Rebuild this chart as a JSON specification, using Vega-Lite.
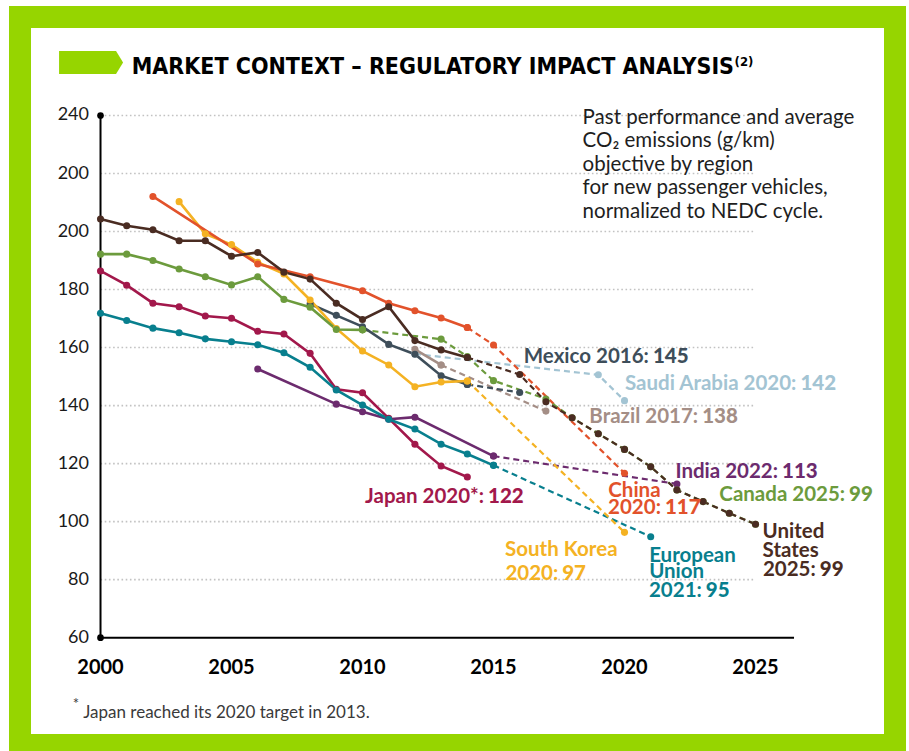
{
  "$schema": "https://vega.github.io/schema/vega-lite/v6.json",
  "width": 875,
  "height": 728,
  "autosize": {"type": "none"},
  "padding": {"left": 20, "top": 17, "right": 14, "bottom": 6},
  "background": "white",
  "config": {
    "view": {"fill": "white", "stroke": "#96D500", "strokeWidth": 22},
    "font": "Lato"
  },
  "datasets": {
    "series": [
      {"region": "Saudi Arabia", "kind": "target", "year": 2012, "value": 157.8},
      {"region": "Saudi Arabia", "kind": "target", "year": 2019, "value": 150.6},
      {"region": "Saudi Arabia", "kind": "target", "year": 2020, "value": 141.7},
      {"region": "Brazil", "kind": "actual", "year": 2012, "value": 159.4},
      {"region": "Brazil", "kind": "actual", "year": 2013, "value": 154.0},
      {"region": "Brazil", "kind": "target", "year": 2013, "value": 154.0},
      {"region": "Brazil", "kind": "target", "year": 2017, "value": 138.1},
      {"region": "Mexico", "kind": "actual", "year": 2008, "value": 175.0},
      {"region": "Mexico", "kind": "actual", "year": 2009, "value": 171.1},
      {"region": "Mexico", "kind": "actual", "year": 2010, "value": 167.2},
      {"region": "Mexico", "kind": "actual", "year": 2011, "value": 161.1},
      {"region": "Mexico", "kind": "actual", "year": 2012, "value": 157.7},
      {"region": "Mexico", "kind": "actual", "year": 2013, "value": 150.3},
      {"region": "Mexico", "kind": "actual", "year": 2014, "value": 147.3},
      {"region": "Mexico", "kind": "target", "year": 2014, "value": 147.3},
      {"region": "Mexico", "kind": "target", "year": 2016, "value": 144.5},
      {"region": "India", "kind": "actual", "year": 2006, "value": 152.6},
      {"region": "India", "kind": "actual", "year": 2009, "value": 140.5},
      {"region": "India", "kind": "actual", "year": 2010, "value": 137.9},
      {"region": "India", "kind": "actual", "year": 2011, "value": 135.3},
      {"region": "India", "kind": "actual", "year": 2012, "value": 136.0},
      {"region": "India", "kind": "actual", "year": 2015, "value": 122.6},
      {"region": "India", "kind": "target", "year": 2015, "value": 122.6},
      {"region": "India", "kind": "target", "year": 2022, "value": 113.0},
      {"region": "Japan", "kind": "actual", "year": 2000, "value": 186.4},
      {"region": "Japan", "kind": "actual", "year": 2001, "value": 181.5},
      {"region": "Japan", "kind": "actual", "year": 2002, "value": 175.3},
      {"region": "Japan", "kind": "actual", "year": 2003, "value": 174.1},
      {"region": "Japan", "kind": "actual", "year": 2004, "value": 170.9},
      {"region": "Japan", "kind": "actual", "year": 2005, "value": 170.1},
      {"region": "Japan", "kind": "actual", "year": 2006, "value": 165.6},
      {"region": "Japan", "kind": "actual", "year": 2007, "value": 164.7},
      {"region": "Japan", "kind": "actual", "year": 2008, "value": 158.0},
      {"region": "Japan", "kind": "actual", "year": 2009, "value": 145.6},
      {"region": "Japan", "kind": "actual", "year": 2010, "value": 144.4},
      {"region": "Japan", "kind": "actual", "year": 2011, "value": 135.6},
      {"region": "Japan", "kind": "actual", "year": 2012, "value": 126.7},
      {"region": "Japan", "kind": "actual", "year": 2013, "value": 119.2},
      {"region": "Japan", "kind": "actual", "year": 2014, "value": 115.4},
      {"region": "European Union", "kind": "actual", "year": 2000, "value": 171.8},
      {"region": "European Union", "kind": "actual", "year": 2001, "value": 169.3},
      {"region": "European Union", "kind": "actual", "year": 2002, "value": 166.7},
      {"region": "European Union", "kind": "actual", "year": 2003, "value": 165.1},
      {"region": "European Union", "kind": "actual", "year": 2004, "value": 163.0},
      {"region": "European Union", "kind": "actual", "year": 2005, "value": 162.0},
      {"region": "European Union", "kind": "actual", "year": 2006, "value": 161.0},
      {"region": "European Union", "kind": "actual", "year": 2007, "value": 158.2},
      {"region": "European Union", "kind": "actual", "year": 2008, "value": 153.2},
      {"region": "European Union", "kind": "actual", "year": 2009, "value": 145.4},
      {"region": "European Union", "kind": "actual", "year": 2010, "value": 140.2},
      {"region": "European Union", "kind": "actual", "year": 2011, "value": 135.3},
      {"region": "European Union", "kind": "actual", "year": 2012, "value": 131.9},
      {"region": "European Union", "kind": "actual", "year": 2013, "value": 126.7},
      {"region": "European Union", "kind": "actual", "year": 2014, "value": 123.3},
      {"region": "European Union", "kind": "actual", "year": 2015, "value": 119.4},
      {"region": "European Union", "kind": "target", "year": 2015, "value": 119.4},
      {"region": "European Union", "kind": "target", "year": 2021, "value": 94.8},
      {"region": "South Korea", "kind": "actual", "year": 2003, "value": 210.3},
      {"region": "South Korea", "kind": "actual", "year": 2004, "value": 199.2},
      {"region": "South Korea", "kind": "actual", "year": 2005, "value": 195.5},
      {"region": "South Korea", "kind": "actual", "year": 2006, "value": 189.4},
      {"region": "South Korea", "kind": "actual", "year": 2007, "value": 185.4},
      {"region": "South Korea", "kind": "actual", "year": 2008, "value": 176.4},
      {"region": "South Korea", "kind": "actual", "year": 2009, "value": 166.6},
      {"region": "South Korea", "kind": "actual", "year": 2010, "value": 158.8},
      {"region": "South Korea", "kind": "actual", "year": 2011, "value": 154.0},
      {"region": "South Korea", "kind": "actual", "year": 2012, "value": 146.5},
      {"region": "South Korea", "kind": "actual", "year": 2013, "value": 148.1},
      {"region": "South Korea", "kind": "actual", "year": 2014, "value": 148.5},
      {"region": "South Korea", "kind": "target", "year": 2014, "value": 148.5},
      {"region": "South Korea", "kind": "target", "year": 2020, "value": 96.3},
      {"region": "China", "kind": "actual", "year": 2002, "value": 212.1},
      {"region": "China", "kind": "actual", "year": 2006, "value": 188.8},
      {"region": "China", "kind": "actual", "year": 2008, "value": 184.4},
      {"region": "China", "kind": "actual", "year": 2010, "value": 179.6},
      {"region": "China", "kind": "actual", "year": 2011, "value": 175.3},
      {"region": "China", "kind": "actual", "year": 2012, "value": 172.7},
      {"region": "China", "kind": "actual", "year": 2013, "value": 170.2},
      {"region": "China", "kind": "actual", "year": 2014, "value": 166.9},
      {"region": "China", "kind": "target", "year": 2014, "value": 166.9},
      {"region": "China", "kind": "target", "year": 2015, "value": 160.9},
      {"region": "China", "kind": "target", "year": 2020, "value": 116.7},
      {"region": "Canada", "kind": "actual", "year": 2000, "value": 192.2},
      {"region": "Canada", "kind": "actual", "year": 2001, "value": 192.2},
      {"region": "Canada", "kind": "actual", "year": 2002, "value": 190.0},
      {"region": "Canada", "kind": "actual", "year": 2003, "value": 187.1},
      {"region": "Canada", "kind": "actual", "year": 2004, "value": 184.4},
      {"region": "Canada", "kind": "actual", "year": 2005, "value": 181.6},
      {"region": "Canada", "kind": "actual", "year": 2006, "value": 184.4},
      {"region": "Canada", "kind": "actual", "year": 2007, "value": 176.6},
      {"region": "Canada", "kind": "actual", "year": 2008, "value": 173.9},
      {"region": "Canada", "kind": "actual", "year": 2009, "value": 166.2},
      {"region": "Canada", "kind": "actual", "year": 2010, "value": 166.1},
      {"region": "Canada", "kind": "target", "year": 2010, "value": 166.1},
      {"region": "Canada", "kind": "target", "year": 2013, "value": 162.9},
      {"region": "Canada", "kind": "target", "year": 2014, "value": 156.9},
      {"region": "Canada", "kind": "target", "year": 2015, "value": 148.6},
      {"region": "Canada", "kind": "target", "year": 2017, "value": 142.3},
      {"region": "Canada", "kind": "target", "year": 2018, "value": 135.8},
      {"region": "Canada", "kind": "target", "year": 2019, "value": 130.3},
      {"region": "Canada", "kind": "target", "year": 2020, "value": 124.9},
      {"region": "Canada", "kind": "target", "year": 2021, "value": 118.9},
      {"region": "Canada", "kind": "target", "year": 2022, "value": 110.9},
      {"region": "Canada", "kind": "target", "year": 2023, "value": 106.9},
      {"region": "Canada", "kind": "target", "year": 2024, "value": 102.9},
      {"region": "Canada", "kind": "target", "year": 2025, "value": 99.1},
      {"region": "United States", "kind": "actual", "year": 2000, "value": 204.3},
      {"region": "United States", "kind": "actual", "year": 2001, "value": 202.0},
      {"region": "United States", "kind": "actual", "year": 2002, "value": 200.6},
      {"region": "United States", "kind": "actual", "year": 2003, "value": 196.8},
      {"region": "United States", "kind": "actual", "year": 2004, "value": 196.8},
      {"region": "United States", "kind": "actual", "year": 2005, "value": 191.5},
      {"region": "United States", "kind": "actual", "year": 2006, "value": 192.8},
      {"region": "United States", "kind": "actual", "year": 2007, "value": 186.0},
      {"region": "United States", "kind": "actual", "year": 2008, "value": 183.6},
      {"region": "United States", "kind": "actual", "year": 2009, "value": 175.3},
      {"region": "United States", "kind": "actual", "year": 2010, "value": 169.7},
      {"region": "United States", "kind": "actual", "year": 2011, "value": 174.1},
      {"region": "United States", "kind": "actual", "year": 2012, "value": 162.4},
      {"region": "United States", "kind": "actual", "year": 2013, "value": 159.2},
      {"region": "United States", "kind": "actual", "year": 2014, "value": 156.6},
      {"region": "United States", "kind": "target", "year": 2014, "value": 156.6},
      {"region": "United States", "kind": "target", "year": 2016, "value": 150.7},
      {"region": "United States", "kind": "target", "year": 2017, "value": 141.3},
      {"region": "United States", "kind": "target", "year": 2018, "value": 135.8},
      {"region": "United States", "kind": "target", "year": 2019, "value": 130.3},
      {"region": "United States", "kind": "target", "year": 2020, "value": 124.9},
      {"region": "United States", "kind": "target", "year": 2021, "value": 118.9},
      {"region": "United States", "kind": "target", "year": 2022, "value": 110.9},
      {"region": "United States", "kind": "target", "year": 2023, "value": 106.9},
      {"region": "United States", "kind": "target", "year": 2024, "value": 102.9},
      {"region": "United States", "kind": "target", "year": 2025, "value": 99.1}
    ],
    "grid": [{"v": 80}, {"v": 100}, {"v": 120}, {"v": 140}, {"v": 160}, {"v": 180}, {"v": 200}, {"v": 220}, {"v": 240}],
    "axisEnds": [{"v": 60}, {"v": 240}],
    "yTicks": [
      {"v": 60, "lab": "60"}, {"v": 80, "lab": "80"}, {"v": 100, "lab": "100"}, {"v": 120, "lab": "120"},
      {"v": 140, "lab": "140"}, {"v": 160, "lab": "160"}, {"v": 180, "lab": "180"}, {"v": 200, "lab": "200"},
      {"v": 220, "lab": "200"}, {"v": 240, "lab": "240"}
    ],
    "xTicks": [{"t": 2000}, {"t": 2005}, {"t": 2010}, {"t": 2015}, {"t": 2020}, {"t": 2025}],
    "labelLines": [
      {"region": "China", "text": "China", "year": 2019.38, "value": 108.6},
      {"region": "South Korea", "text": "South Korea", "year": 2015.44, "value": 88.15},
      {"region": "European Union", "text": "European", "year": 2020.94, "value": 86.2},
      {"region": "European Union", "text": "Union", "year": 2020.94, "value": 80.5},
      {"region": "United States", "text": "United", "year": 2025.27, "value": 94.3},
      {"region": "United States", "text": "States", "year": 2025.27, "value": 87.9}
    ],
    "labelPairs": [
      {"region": "Mexico", "prefix": "Mexico 2016:", "num": "145", "year": 2020.93, "value": 154.6},
      {"region": "Saudi Arabia", "prefix": "Saudi Arabia 2020:", "num": "142", "year": 2026.56, "value": 145.4},
      {"region": "Brazil", "prefix": "Brazil 2017:", "num": "138", "year": 2022.81, "value": 133.9},
      {"region": "India", "prefix": "India 2022:", "num": "113", "year": 2025.86, "value": 115.2},
      {"region": "Canada", "prefix": "Canada 2025:", "num": "99", "year": 2028.42, "value": 107.1},
      {"region": "China", "prefix": "2020:", "num": "117", "year": 2021.39, "value": 102.5},
      {"region": "South Korea", "prefix": "2020:", "num": "97", "year": 2017.47, "value": 79.9},
      {"region": "European Union", "prefix": "2021:", "num": "95", "year": 2022.95, "value": 74.1},
      {"region": "United States", "prefix": "2025:", "num": "99", "year": 2027.3, "value": 81.4},
      {"region": "Japan", "prefix": "Japan 2020*:", "num": "122", "year": 2014.64, "value": 106.3}
    ]
  },
  "layer": [
    {
      "data": {"name": "grid"},
      "mark": {"type": "rule", "color": "#c2c2c2", "strokeWidth": 1.6, "strokeDash": [1.6, 2.6]},
      "encoding": {
        "x": {"datum": 2000, "type": "quantitative", "scale": {"domain": [1996.927, 2030.324], "nice": false, "zero": false}, "axis": null},
        "x2": {"datum": 2025},
        "y": {"field": "v", "type": "quantitative", "scale": {"domain": [23.0, 273.95], "nice": false, "zero": false}, "axis": null}
      }
    },
    {
      "data": {"values": [{}]},
      "mark": {"type": "rule", "color": "#000000", "strokeWidth": 2},
      "encoding": {
        "x": {"datum": 2000, "type": "quantitative", "axis": null},
        "x2": {"datum": 2026.47},
        "y": {"datum": 60, "type": "quantitative", "axis": null}
      }
    },
    {
      "data": {"values": [{}]},
      "mark": {"type": "rule", "color": "#000000", "strokeWidth": 2},
      "encoding": {
        "x": {"datum": 2000, "type": "quantitative", "axis": null},
        "y": {"datum": 60, "type": "quantitative", "axis": null},
        "y2": {"datum": 240}
      }
    },
    {
      "data": {"name": "axisEnds"},
      "mark": {"type": "point", "filled": true, "color": "#000000", "size": 45, "opacity": 1},
      "encoding": {
        "x": {"datum": 2000, "type": "quantitative", "axis": null},
        "y": {"field": "v", "type": "quantitative", "axis": null}
      }
    },
    {
      "data": {"name": "yTicks"},
      "mark": {"type": "text", "font": "Lato", "fontSize": 18, "color": "#1a1a1a", "align": "right", "baseline": "middle"},
      "encoding": {
        "x": {"datum": 1999.56, "type": "quantitative", "axis": null},
        "y": {"field": "v", "type": "quantitative", "axis": null},
        "text": {"field": "lab"}
      }
    },
    {
      "data": {"name": "xTicks"},
      "mark": {"type": "text", "font": "Lato", "fontSize": 20, "fontWeight": "bold", "color": "#000000", "align": "center", "baseline": "alphabetic"},
      "encoding": {
        "x": {"field": "t", "type": "quantitative", "axis": null},
        "y": {"datum": 47.48, "type": "quantitative", "axis": null},
        "text": {"field": "t", "type": "quantitative", "format": "d"}
      }
    },
    {
      "data": {"values": [{}]},
      "mark": {"type": "point", "shape": "M-1,-0.36L0.78,-0.36L1,0L0.78,0.36L-1,0.36Z", "size": 4096, "filled": true, "color": "#96D500", "opacity": 1, "strokeWidth": 0},
      "encoding": {
        "x": {"datum": 1999.64, "type": "quantitative", "axis": null},
        "y": {"datum": 258.3, "type": "quantitative", "axis": null}
      }
    },
    {
      "data": {"values": [{}]},
      "mark": {"type": "text", "text": "MARKET CONTEXT – REGULATORY IMPACT ANALYSIS", "font": "DejaVu Sans Condensed", "fontWeight": "bold", "fontSize": 23, "align": "left", "baseline": "alphabetic", "color": "#000000"},
      "encoding": {
        "x": {"datum": 2001.19, "type": "quantitative", "axis": null},
        "y": {"datum": 254.3, "type": "quantitative", "axis": null}
      }
    },
    {
      "data": {"values": [{}]},
      "mark": {"type": "text", "text": "(2)", "font": "DejaVu Sans Condensed", "fontWeight": "bold", "fontSize": 13, "align": "left", "baseline": "alphabetic", "color": "#000000"},
      "encoding": {
        "x": {"datum": 2024.2, "type": "quantitative", "axis": null},
        "y": {"datum": 257.06, "type": "quantitative", "axis": null}
      }
    },
    {
      "data": {"values": [{}]},
      "mark": {"type": "text", "text": ["Past performance and average", "CO₂ emissions (g/km)", "objective by region", "for new passenger vehicles,", "normalized to NEDC cycle."], "font": "Lato", "fontSize": 20.5, "lineHeight": 23.5, "align": "left", "baseline": "alphabetic", "color": "#1e1e1e"},
      "encoding": {
        "x": {"datum": 2018.4, "type": "quantitative", "axis": null},
        "y": {"datum": 237.07, "type": "quantitative", "axis": null}
      }
    },
    {
      "data": {"values": [{}]},
      "mark": {"type": "text", "text": "*", "font": "Lato", "fontSize": 15, "align": "left", "baseline": "alphabetic", "color": "#3a3a3a"},
      "encoding": {
        "x": {"datum": 1998.94, "type": "quantitative", "axis": null},
        "y": {"datum": 35.3, "type": "quantitative", "axis": null}
      }
    },
    {
      "data": {"values": [{}]},
      "mark": {"type": "text", "text": "Japan reached its 2020 target in 2013.", "font": "Lato", "fontSize": 17, "align": "left", "baseline": "alphabetic", "color": "#3a3a3a"},
      "encoding": {
        "x": {"datum": 1999.34, "type": "quantitative", "axis": null},
        "y": {"datum": 32.21, "type": "quantitative", "axis": null}
      }
    },
    {
      "data": {"name": "series"},
      "transform": [{"filter": "datum.kind === 'target'"}],
      "mark": {"type": "line", "strokeDash": [6, 4], "strokeWidth": 2.2},
      "encoding": {
        "x": {"field": "year", "type": "quantitative", "axis": null},
        "y": {"field": "value", "type": "quantitative", "axis": null},
        "color": {"field": "region", "type": "nominal", "legend": null,
          "scale": {
            "domain": ["Saudi Arabia", "Brazil", "Mexico", "India", "Japan", "European Union", "South Korea", "China", "Canada", "United States"],
            "range": ["#A3C4D3", "#A48E86", "#3E4E5A", "#6C2B6E", "#A2184B", "#087F8E", "#F4B223", "#E2522B", "#6C9B3D", "#4A2C22"]
          }},
        "order": {"field": "year", "type": "quantitative"}
      }
    },
    {
      "data": {"name": "series"},
      "transform": [{"filter": "datum.kind === 'actual'"}],
      "mark": {"type": "line", "strokeWidth": 2.6},
      "encoding": {
        "x": {"field": "year", "type": "quantitative", "axis": null},
        "y": {"field": "value", "type": "quantitative", "axis": null},
        "color": {"field": "region", "type": "nominal", "legend": null},
        "order": {"field": "year", "type": "quantitative"}
      }
    },
    {
      "data": {"name": "series"},
      "mark": {"type": "point", "filled": true, "size": 50, "opacity": 1},
      "encoding": {
        "x": {"field": "year", "type": "quantitative", "axis": null},
        "y": {"field": "value", "type": "quantitative", "axis": null},
        "color": {"field": "region", "type": "nominal", "legend": null}
      }
    },
    {
      "data": {"name": "labelLines"},
      "mark": {"type": "text", "font": "Lato", "fontSize": 20.5, "fontWeight": "bold", "align": "left", "baseline": "alphabetic"},
      "encoding": {
        "x": {"field": "year", "type": "quantitative", "axis": null},
        "y": {"field": "value", "type": "quantitative", "axis": null},
        "text": {"field": "text"},
        "color": {"field": "region", "type": "nominal", "legend": null}
      }
    },
    {
      "data": {"name": "labelPairs"},
      "mark": {"type": "text", "font": "Lato", "fontSize": 20.5, "fontWeight": "bold", "align": "right", "baseline": "alphabetic"},
      "encoding": {
        "x": {"field": "year", "type": "quantitative", "axis": null},
        "y": {"field": "value", "type": "quantitative", "axis": null},
        "text": {"field": "prefix"},
        "color": {"field": "region", "type": "nominal", "legend": null}
      }
    },
    {
      "data": {"name": "labelPairs"},
      "mark": {"type": "text", "font": "Lato", "fontSize": 20.5, "fontWeight": 900, "align": "left", "baseline": "alphabetic", "dx": 4},
      "encoding": {
        "x": {"field": "year", "type": "quantitative", "axis": null},
        "y": {"field": "value", "type": "quantitative", "axis": null},
        "text": {"field": "num"},
        "color": {"field": "region", "type": "nominal", "legend": null}
      }
    }
  ]
}
